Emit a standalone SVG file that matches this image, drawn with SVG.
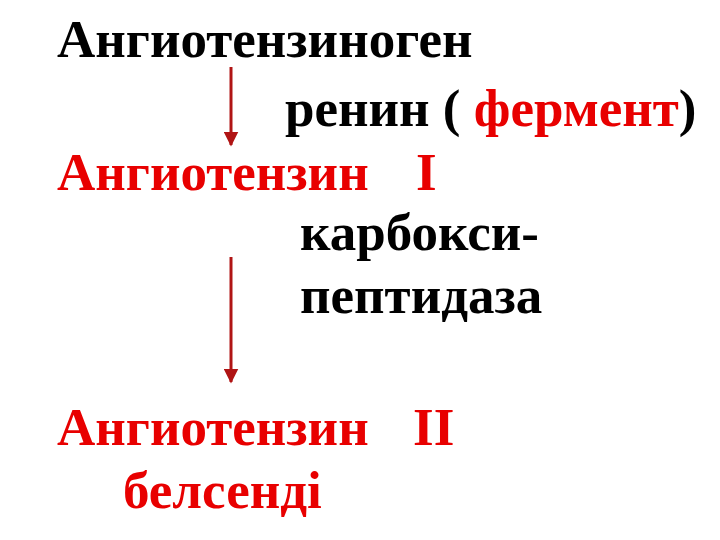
<svg xmlns="http://www.w3.org/2000/svg" width="720" height="540" viewBox="0 0 720 540">
<defs>
<style>
text{font-family:"Liberation Serif","DejaVu Serif",serif;font-weight:bold;font-size:53px;fill:#000}
.r{fill:#e80000}
.c{stroke:#b01414;stroke-width:3;fill:none}
</style>
<marker id="ah" viewBox="0 0 10 10" refX="9" refY="5" markerWidth="5" markerHeight="5" orient="auto" markerUnits="strokeWidth">
<path d="M0,0 L10,5 L0,10 Z" fill="#b01414"/>
</marker>
</defs>
<rect width="720" height="540" fill="#fff"/>
<g id="n1"><text x="57" y="57">Ангиотензиноген</text></g>
<g id="n2"><text x="285" y="126">ренин ( <tspan class="r">фермент</tspan>)</text></g>
<g id="n3"><text x="57" y="190" class="r">Ангиотензин</text><text x="416" y="190" class="r">I</text></g>
<g id="n4"><text x="300" y="250">карбокси-</text><text x="300" y="313">пептидаза</text></g>
<g id="n5"><text x="57" y="445" class="r">Ангиотензин</text><text x="413" y="445" class="r">II</text><text x="123" y="508" class="r">белсенді</text></g>
<g id="connectors">
<line class="c" x1="231" y1="67" x2="231" y2="145" marker-end="url(#ah)"/>
<line class="c" x1="231" y1="257" x2="231" y2="382" marker-end="url(#ah)"/>
</g>
</svg>
